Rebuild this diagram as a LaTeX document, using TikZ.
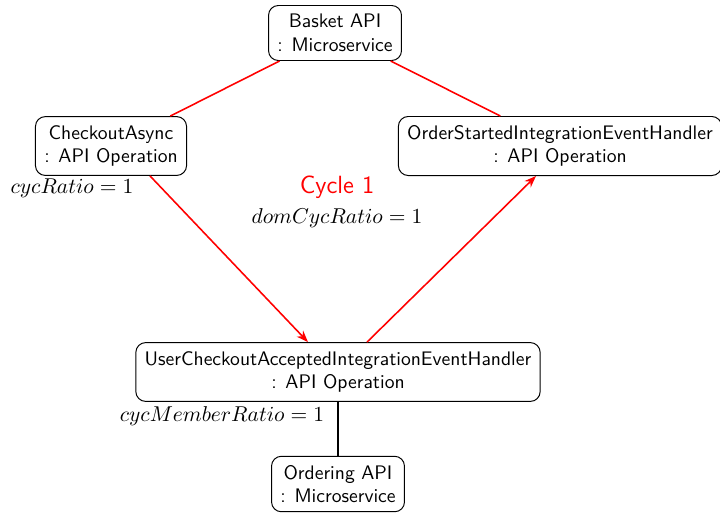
\documentclass[tikz,border=0pt]{standalone}
\usetikzlibrary{arrows.meta,calc}
\begin{document}
\begin{tikzpicture}[x=0.51pt,y=-0.51pt,
  box/.style={draw,rounded corners=5pt,align=center,font=\sffamily,inner sep=4.5pt,line width=0.5pt},
  cyc/.style={draw=red,line width=0.8pt},
  cyca/.style={cyc,-{Stealth[length=6pt,width=4.5pt]}},
  lbl/.style={inner sep=0pt,font=\fontsize{11}{13}\selectfont}]
\useasboundingbox (0,0) rectangle (720,514);
\node[box] (b) at (335,33) {Basket API\\: Microservice};
\node[box] (c) at (111,146) {CheckoutAsync\\: API Operation};
\node[box] (o) at (560,146) {OrderStartedIntegrationEventHandler\\: API Operation};
\node[box] (u) at (338,372) {UserCheckoutAcceptedIntegrationEventHandler\\: API Operation};
\node[box] (m) at (338,484) {Ordering API\\: Microservice};
\node[lbl] (l1) at (72,188) {$cycRatio = 1$};
\node[inner sep=0pt,text=red,font=\sffamily\fontsize{12.7}{15}\selectfont] (cy) at (337,187) {Cycle 1};
\node[lbl] (l2) at (337,218) {$domCycRatio = 1$};
\node[lbl] (l3) at (222,416) {$cycMemberRatio = 1$};
\draw[cyc] (b) -- (c);
\draw[cyc] (b) -- (o);
\draw[cyca] ([xshift=39*0.51pt]c.south) -- ([xshift=-30*0.51pt]u.north);
\draw[cyca] ([xshift=29*0.51pt]u.north) -- ([xshift=-24*0.51pt]o.south);
\draw[line width=0.8pt] (u) -- (m);
\end{tikzpicture}
\end{document}
